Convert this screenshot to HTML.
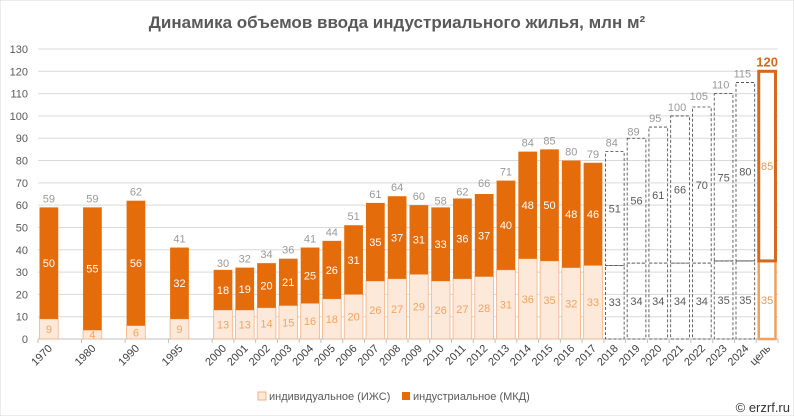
<!DOCTYPE html>
<html><head><meta charset="utf-8"><style>
html,body{margin:0;padding:0;background:#fff;}
svg{display:block;font-family:"Liberation Sans","DejaVu Sans",sans-serif;}
</style></head><body>
<svg id="chart" width="794" height="416" viewBox="0 0 794 416">
<rect x="0" y="0" width="794" height="416" fill="#fff" stroke="#d9d9d9"/>
<text x="397" y="28" text-anchor="middle" font-size="17" font-weight="bold" fill="#595959">Динамика объемов ввода индустриального жилья, млн м²</text>
<g id="grid"></g><g id="bars"></g><g id="xlabels"></g>
<g>
<rect x="258" y="392" width="8" height="8" fill="#fde9d9" stroke="#f4b183"/>
<text x="269" y="400" font-size="11" fill="#595959">индивидуальное (ИЖС)</text>
<rect x="402" y="392" width="8" height="8" fill="#e46c0a"/>
<text x="413" y="400" font-size="11" fill="#595959">индустриальное (МКД)</text>
</g>
<text x="790" y="412" text-anchor="end" font-size="13" fill="#333">© erzrf.ru</text>
</svg>
<script>
const categories=["1970","","1980","","1990","","1995","","2000","2001","2002","2003","2004","2005","2006","2007","2008","2009","2010","2011","2012","2013","2014","2015","2016","2017","2018","2019","2020","2021","2022","2023","2024","цель"];
const indValues=[9,null,4,null,6,null,9,null,13,13,14,15,16,18,20,26,27,29,26,27,28,31,36,35,32,33,33,34,34,34,34,35,35,35];
const mkdValues=[50,null,55,null,56,null,32,null,18,19,20,21,25,26,31,35,37,31,33,36,37,40,48,50,48,46,51,56,61,66,70,75,80,85];
const totals=[59,null,59,null,62,null,41,null,30,32,34,36,41,44,51,61,64,60,58,62,66,71,84,85,80,79,84,89,95,100,105,110,115,120];
const yTicks=[0,10,20,30,40,50,60,70,80,90,100,110,120,130];
const forecastStart=26, goalIndex=33;
const NS="http://www.w3.org/2000/svg";
const X0=38,X1=778,Y0=339,YT=49,YMAX=130;
const slot=(X1-X0)/categories.length;
function yS(v){return Y0-(v/YMAX)*(Y0-YT);}
function xC(i){return X0+slot*(i+0.5);}
function mk(tag,attrs,parent){const e=document.createElementNS(NS,tag);for(const k in attrs)e.setAttribute(k,attrs[k]);parent.appendChild(e);return e;}
const grid=document.getElementById('grid'),bars=document.getElementById('bars'),xl=document.getElementById('xlabels');
yTicks.forEach(t=>{
 const l=mk('line',{x1:X0,x2:X1,y1:yS(t),y2:yS(t),stroke:t===0?'#bfbfbf':'#d9d9d9','stroke-width':1},grid);
 
 
 const tx=mk('text',{x:28,y:yS(t)+4,'text-anchor':'end','font-size':11,fill:'#595959'},grid);
 tx.textContent=t;
 
 
});
const bw=slot*0.86;
categories.forEach((c,i)=>{
 if(totals[i]==null) return;
 const x=xC(i)-bw/2, iv=indValues[i], mv=mkdValues[i];
 const fc=i>=forecastStart&&i<goalIndex, goal=i===goalIndex;
 let r1,r2;
 if(fc){
  r1=mk('rect',{x:x,y:yS(iv),width:bw,height:Y0-yS(iv),fill:'none',stroke:'#404040','stroke-dasharray':'3,2','stroke-width':0.8},bars);
  r2=mk('rect',{x:x,y:yS(iv+mv),width:bw,height:yS(iv)-yS(iv+mv),fill:'none',stroke:'#404040','stroke-dasharray':'3,2','stroke-width':0.8},bars);
 } else if(goal){
  r1=mk('rect',{x:x+1,y:yS(iv),width:bw-2,height:Y0-yS(iv),fill:'#fff',stroke:'#f0a060','stroke-width':2.5},bars);
  r2=mk('rect',{x:x+1,y:yS(iv+mv),width:bw-2,height:yS(iv)-yS(iv+mv),fill:'#fff',stroke:'#d2691e','stroke-width':3},bars);
 } else {
  r1=mk('rect',{x:x,y:yS(iv),width:bw,height:Y0-yS(iv),fill:'#fde9d9',stroke:'#f4b183','stroke-width':0.8},bars);
  r2=mk('rect',{x:x,y:yS(iv+mv),width:bw,height:yS(iv)-yS(iv+mv),fill:'#e46c0a'},bars);
 }
 
 
 
 
 const lc=fc?'#595959':(goal?'#e29a5c':'#f4a460');
 const t1=mk('text',{x:xC(i),y:(yS(iv)+Y0)/2+4,'text-anchor':'middle','font-size':11,fill:lc},bars);
 t1.textContent=iv;
 
 
 const t2=mk('text',{x:xC(i),y:(yS(iv)+yS(iv+mv))/2+4,'text-anchor':'middle','font-size':11,fill:fc?'#595959':(goal?'#e29a5c':'#fff')},bars);
 t2.textContent=mv;
 
 
 const t3=mk('text',{x:xC(i)-(fc?3:0),y:yS(totals[i])-5,'text-anchor':'middle','font-size':goal?13:11,'font-weight':goal?'bold':'normal',fill:goal?'#d2691e':'#999'},bars);
 t3.textContent=totals[i];
 
 
 const xt=mk('text',{x:0,y:0,'text-anchor':'end','font-size':11,fill:'#404040',transform:'translate('+(xC(i)+4)+','+(Y0+10)+') rotate(-45)'},xl);
 xt.textContent=c;
 
 
});
for(let i=0;i<=categories.length;i++){
 if(i<8&&i%2===1) continue;
 const tk=mk('line',{x1:X0+slot*i,x2:X0+slot*i,y1:Y0,y2:Y0+4,stroke:'#bfbfbf'},grid);
 
 
}
</script>
</body></html>
